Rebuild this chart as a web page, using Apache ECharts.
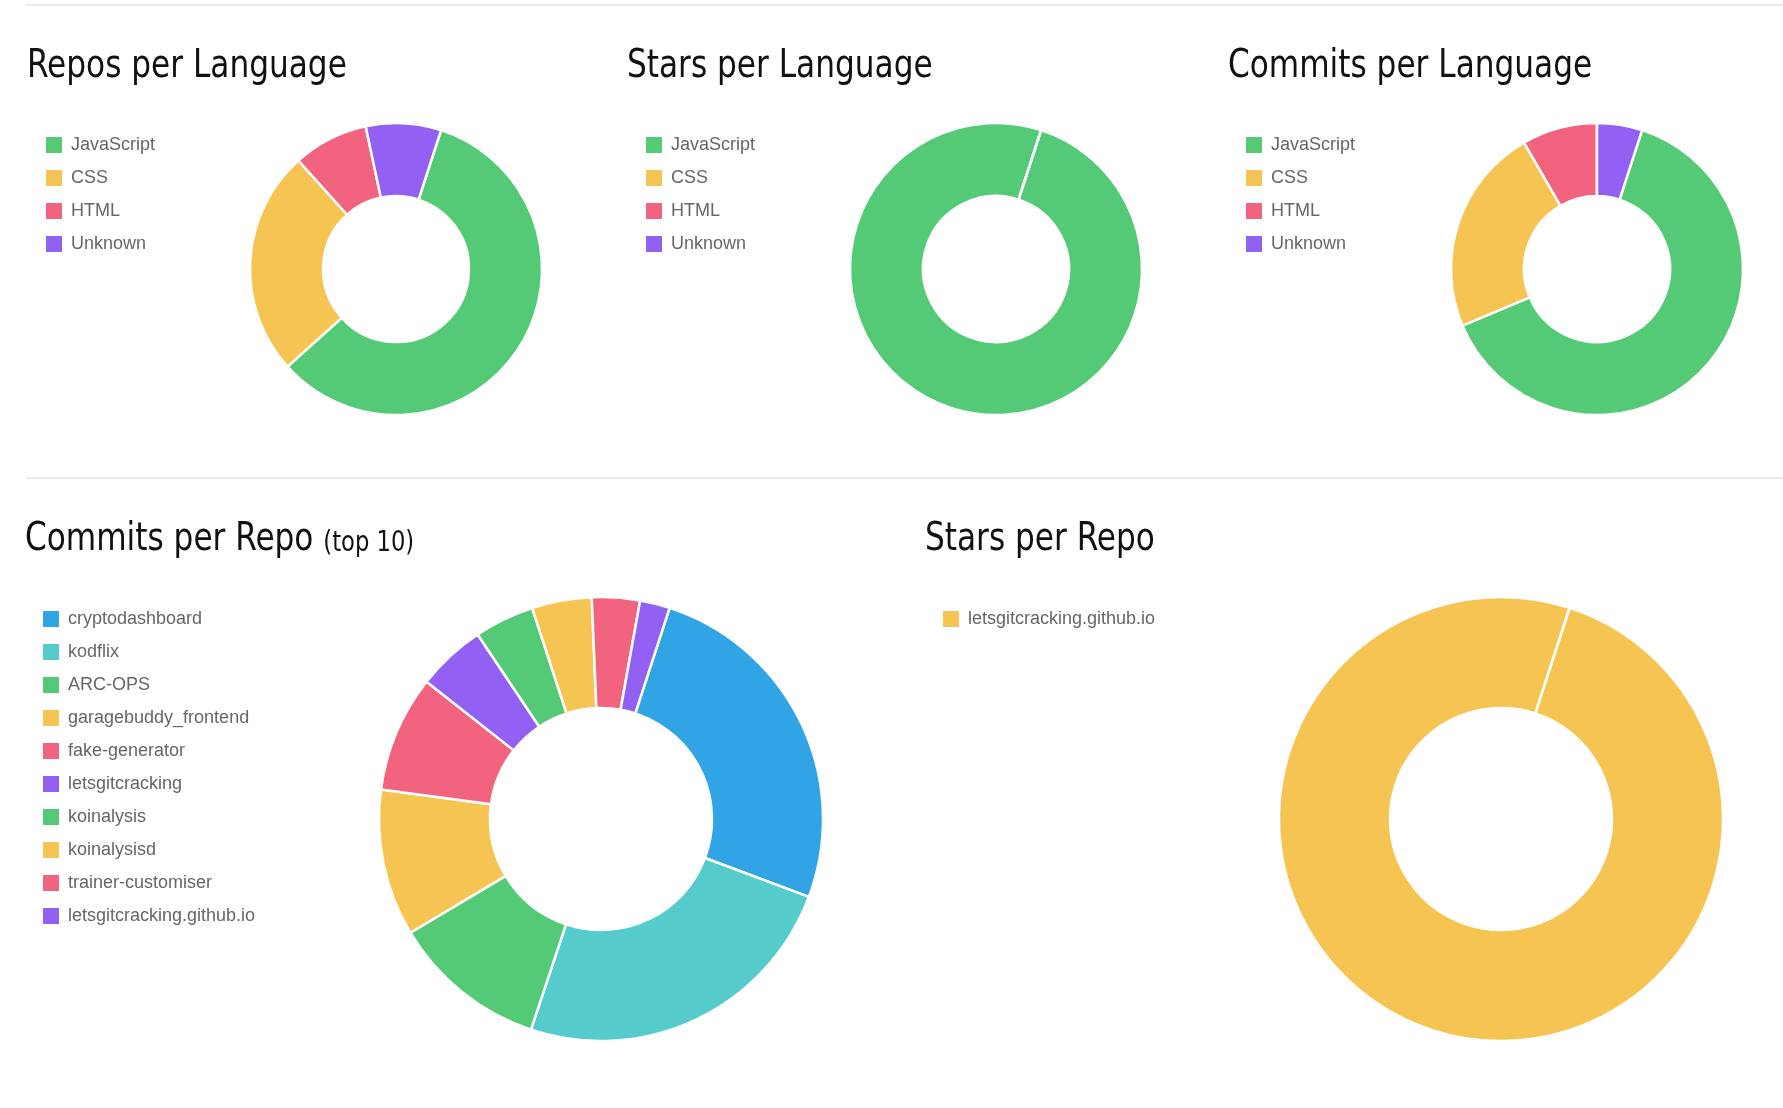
<!DOCTYPE html>
<html><head><meta charset="utf-8">
<script src="https://cdn.jsdelivr.net/npm/echarts@6/dist/echarts.min.js"></script>
<style>
html,body{margin:0;padding:0;background:#fff;width:1783px;height:1108px;overflow:hidden;position:relative}
.panel{position:absolute}
.rule{position:absolute;left:26px;right:0;height:2px;background:#ebebeb}
</style></head><body>
<div class="rule" style="top:4px"></div>
<div class="rule" style="top:477px"></div>
<div id="c1" class="panel" style="left:0;top:0;width:600px;height:478px"></div>
<div id="c2" class="panel" style="left:600px;top:0;width:600px;height:478px"></div>
<div id="c3" class="panel" style="left:1200px;top:0;width:583px;height:478px"></div>
<div id="c4" class="panel" style="left:0;top:479px;width:900px;height:629px"></div>
<div id="c5" class="panel" style="left:900px;top:479px;width:883px;height:629px"></div>
<script>
// ---- data ----
const langNames = ['JavaScript', 'CSS', 'HTML', 'Unknown'];
const langColors = ['#54ca76', '#f5c452', '#f2637f', '#9261f3'];
const reposPerLanguage = [7, 3, 1, 1];
const starsPerLanguage = [1, 0, 0, 0];
const commitsPerLanguage = [382, 138, 50, 30];

const repoNames = ['cryptodashboard', 'kodflix', 'ARC-OPS', 'garagebuddy_frontend', 'fake-generator',
  'letsgitcracking', 'koinalysis', 'koinalysisd', 'trainer-customiser', 'letsgitcracking.github.io'];
const repoColors = ['#31a4e6', '#55cbcb', '#54ca76', '#f5c452', '#f2637f',
  '#9261f3', '#54ca76', '#f5c452', '#f2637f', '#9261f3'];
const commitsPerRepo = [118, 112, 52, 49, 39, 23, 20, 20, 16, 10];

const starRepoNames = ['letsgitcracking.github.io'];
const starRepoColors = ['#f5c452'];
const starsPerRepo = [1];

const titles = ['Repos per Language', 'Stars per Language', 'Commits per Language',
  '{a|Commits per Repo} {b|(top 10)}', 'Stars per Repo'];

// ---- styling ----
const TITLE_FONT = '"DejaVu Sans Condensed", "Liberation Sans Narrow", sans-serif';
const LEGEND_FONT = '"Liberation Sans", Arial, Helvetica, sans-serif';
const TITLE_SIZE = 38.5;

function build(el, o) {
  const chart = echarts.init(document.getElementById(el), null, {renderer: 'canvas'});
  chart.setOption({
    backgroundColor: 'transparent',
    animation: false,
    graphic: [{
      type: 'text', x: o.titleX, y: o.titleY, scaleX: 0.9, silent: true,
      style: {
        text: o.title, fontFamily: TITLE_FONT, fontSize: TITLE_SIZE, fill: '#111',
        verticalAlign: 'middle', align: 'left',
        rich: {
          a: {fontFamily: TITLE_FONT, fontSize: TITLE_SIZE, lineHeight: TITLE_SIZE, fill: '#111', verticalAlign: 'bottom'},
          b: {fontFamily: TITLE_FONT, fontSize: 28, lineHeight: 28, fill: '#111', verticalAlign: 'bottom', padding: [0, 0, 2, 0]}
        }
      }
    }],
    legend: {
      orient: 'vertical', left: o.legendLeft, top: o.legendTop, padding: 0,
      icon: 'rect', itemWidth: 18, itemHeight: 18, itemGap: 13,
      selectedMode: false,
      data: o.names,
      textStyle: {fontFamily: LEGEND_FONT, fontSize: 18, color: '#666', padding: [0, 0, 0, 3]}
    },
    series: [{
      type: 'pie', silent: true,
      center: o.center, radius: o.radius,
      startAngle: 72, clockwise: true,
      padAngle: o.padAngle || 0,
      label: {show: false}, labelLine: {show: false},
      itemStyle: {borderColor: '#fff', borderWidth: 2.5},
      emphasis: {disabled: true},
      data: o.names.map((n, i) => ({name: n, value: o.values[i], itemStyle: {color: o.colors[i]}}))
    }]
  });
}

const topRadius = [73, 146];
const botRadius = [111, 222];

build('c1', {title: titles[0], titleX: 27, titleY: 66.5, legendLeft: 44, legendTop: 135,
  names: langNames, values: reposPerLanguage, colors: langColors, center: [396, 269], radius: topRadius});
build('c2', {title: titles[1], titleX: 27, titleY: 66.5, legendLeft: 44, legendTop: 135,
  names: langNames, values: starsPerLanguage, colors: langColors, center: [396, 269], radius: topRadius});
build('c3', {title: titles[2], titleX: 28, titleY: 66.5, legendLeft: 44, legendTop: 135,
  names: langNames, values: commitsPerLanguage, colors: langColors, center: [397, 269], radius: topRadius});
build('c4', {title: titles[3], titleX: 25, titleY: 61, legendLeft: 41, legendTop: 130,
  names: repoNames, values: commitsPerRepo, colors: repoColors, center: [601, 340], radius: botRadius});
build('c5', {title: titles[4], titleX: 25, titleY: 61, legendLeft: 41, legendTop: 130, padAngle: 0.1,
  names: starRepoNames, values: starsPerRepo, colors: starRepoColors, center: [601, 340], radius: botRadius});
</script>
</body></html>
